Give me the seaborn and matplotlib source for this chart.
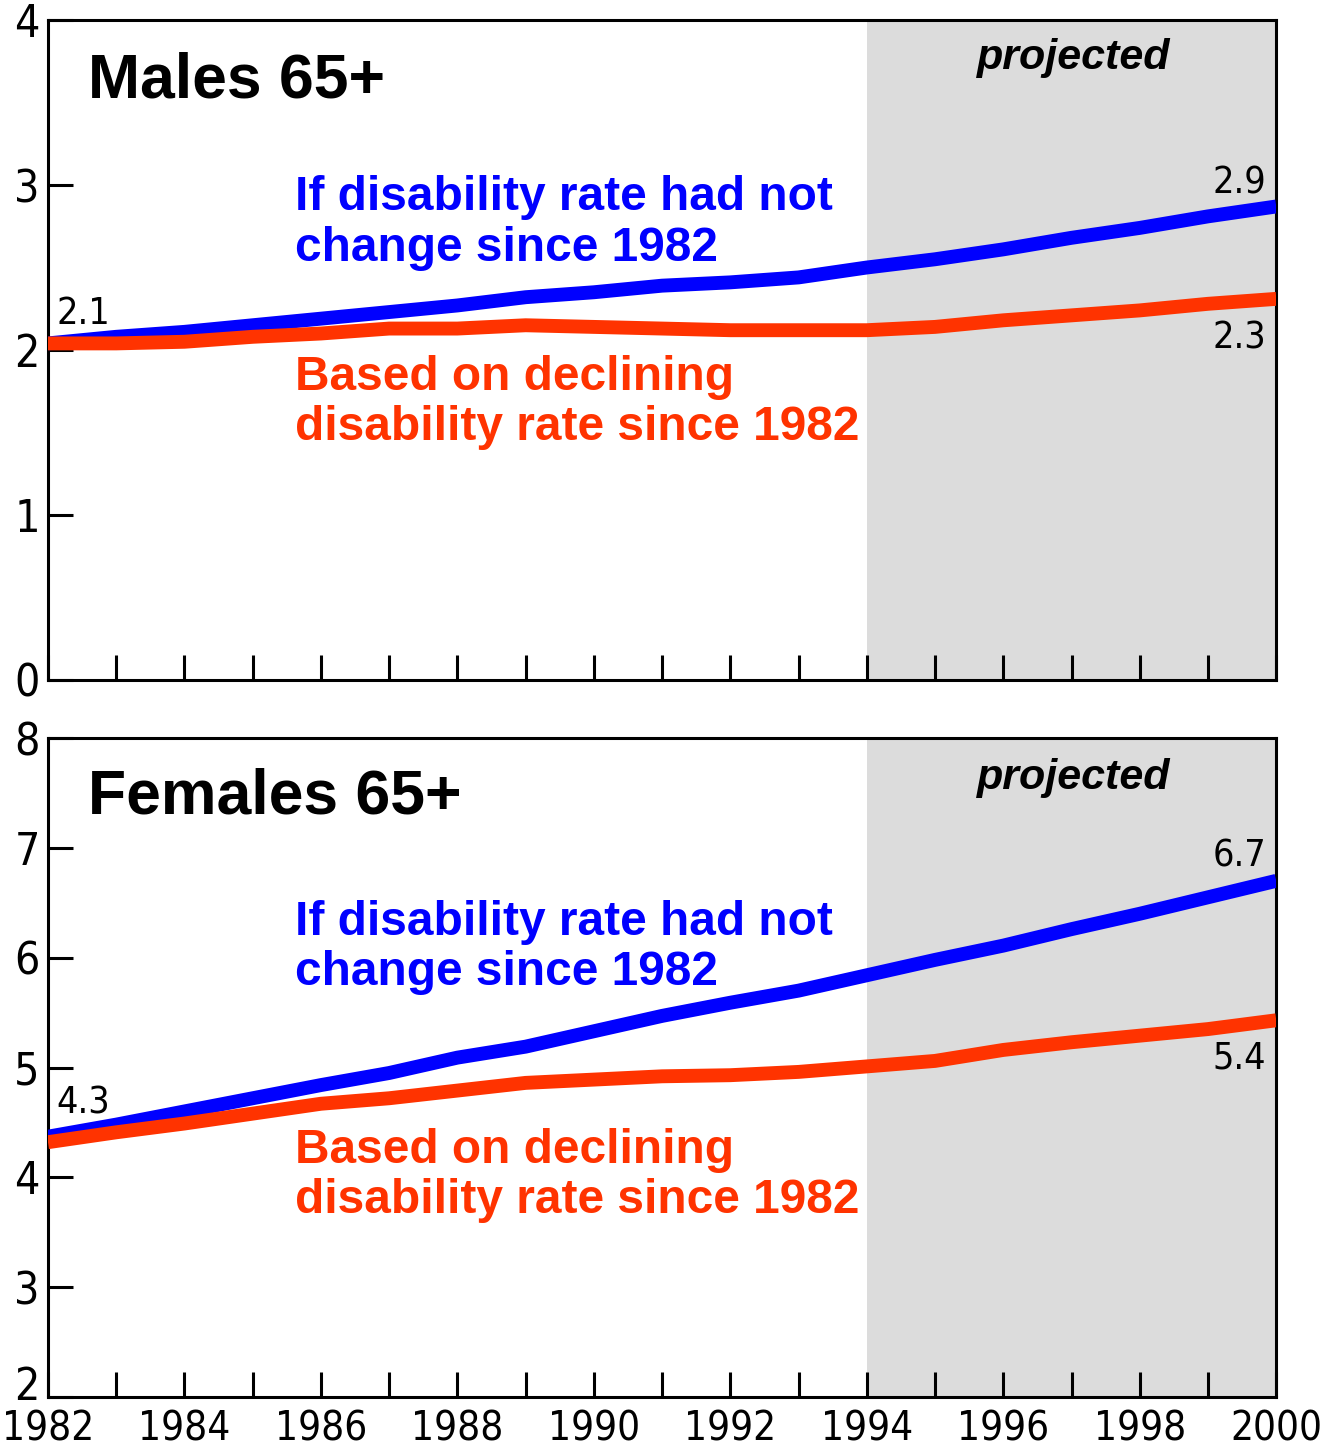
import matplotlib
matplotlib.use("Agg")
import matplotlib.pyplot as plt
import matplotlib.transforms as mtrans
import seaborn as sns
import pandas as pd

years = list(range(1982, 2001))

# persons with disability (millions)
males_constant = [2.04, 2.08, 2.11, 2.15, 2.19, 2.23, 2.27, 2.32, 2.35, 2.39,
                  2.41, 2.44, 2.50, 2.55, 2.61, 2.68, 2.74, 2.81, 2.87]
males_declining = [2.04, 2.04, 2.05, 2.08, 2.10, 2.13, 2.13, 2.15, 2.14, 2.13,
                   2.12, 2.12, 2.12, 2.14, 2.18, 2.21, 2.24, 2.28, 2.31]
females_constant = [4.37, 4.48, 4.60, 4.72, 4.84, 4.95, 5.09, 5.19, 5.33, 5.47,
                    5.59, 5.70, 5.84, 5.98, 6.11, 6.26, 6.40, 6.55, 6.70]
females_declining = [4.32, 4.41, 4.49, 4.58, 4.67, 4.72, 4.79, 4.86, 4.89, 4.92,
                     4.93, 4.96, 5.01, 5.06, 5.16, 5.23, 5.29, 5.35, 5.43]

blue = "#0000ff"
red = "#ff3300"
num_font = dict(family=["DejaVu Sans"], fontstretch="condensed")

sns.set_style("white")
plt.rcParams["font.family"] = ["Liberation Sans", "DejaVu Sans"]
plt.rcParams["text.color"] = "black"

fig = plt.figure(figsize=(13.25, 14.52), dpi=100)
ax1 = fig.add_axes([0.0362, 0.5317, 0.927, 0.4545])
ax2 = fig.add_axes([0.0362, 0.0379, 0.927, 0.4538])


def draw_panel(ax, title, const, decl, ylim, lab_start, lab_c, lab_d, pos):
    df = pd.DataFrame({"year": years, "const": const, "decl": decl})
    ax.axvspan(1994, 2000, color="#dcdcdc", zorder=0, lw=0)
    sns.lineplot(data=df, x="year", y="const", color=blue, lw=10, ax=ax,
                 solid_capstyle="butt", zorder=3)
    sns.lineplot(data=df, x="year", y="decl", color=red, lw=10, ax=ax,
                 solid_capstyle="butt", zorder=3)
    ax.set_xlim(1982, 2000)
    ax.set_ylim(*ylim)
    ax.set_xlabel("")
    ax.set_ylabel("")
    ax.set_xticks(years)
    ax.set_yticks(range(ylim[0], ylim[1] + 1))
    ax.tick_params(direction="in", length=18, width=2.2, colors="black",
                   bottom=True, left=True)
    ax.tick_params(axis="y", pad=6)
    for sp in ax.spines.values():
        sp.set_linewidth(2.2)
        sp.set_color("black")
    ax.set_yticklabels([str(v) for v in range(ylim[0], ylim[1] + 1)],
                       fontsize=32, **num_font)

    ax.text(1982.59, pos["title"], title, fontsize=45, fontweight="bold",
            va="center", ha="left")
    ax.text(1997.03, pos["proj"], "projected", fontsize=31, fontweight="bold",
            fontstyle="italic", ha="center", va="center")
    ax.text(1985.62, pos["blue"], "If disability rate had not\nchange since 1982",
            color=blue, fontsize=34.5, fontweight="bold", va="center",
            ha="left", linespacing=1.15)
    ax.text(1985.62, pos["red"], "Based on declining\ndisability rate since 1982",
            color=red, fontsize=34.5, fontweight="bold", va="center",
            ha="left", linespacing=1.15)
    ax.text(1982.12, pos["start"], lab_start, fontsize=27, ha="left",
            va="center", **num_font)
    ax.text(1999.85, pos["c"], lab_c, fontsize=27, ha="right", va="center",
            **num_font)
    ax.text(1999.85, pos["d"], lab_d, fontsize=27, ha="right", va="center",
            **num_font)


draw_panel(ax1, "Males 65+", males_constant, males_declining, (0, 4),
           "2.1", "2.9", "2.3",
           {"title": 3.63, "proj": 3.77, "blue": 2.77, "red": 1.68,
            "start": 2.22, "c": 3.01, "d": 2.07})
draw_panel(ax2, "Females 65+", females_constant, females_declining, (2, 8),
           "4.3", "6.7", "5.4",
           {"title": 7.46, "proj": 7.64, "blue": 6.09, "red": 4.02,
            "start": 4.67, "c": 6.92, "d": 5.08})

ax1.set_xticklabels([])
ax2.set_xticklabels([str(y) if y % 2 == 0 else "" for y in years],
                    fontsize=29, **num_font)
ax2.tick_params(axis="x", pad=9)

# lowest y label sits a little above its tick, as in the original
low = ax2.get_yticklabels()[0]
low.set_transform(low.get_transform()
                  + mtrans.ScaledTranslation(0, 10 / 72, fig.dpi_scale_trans))

fig.savefig("out.png", dpi=100)
